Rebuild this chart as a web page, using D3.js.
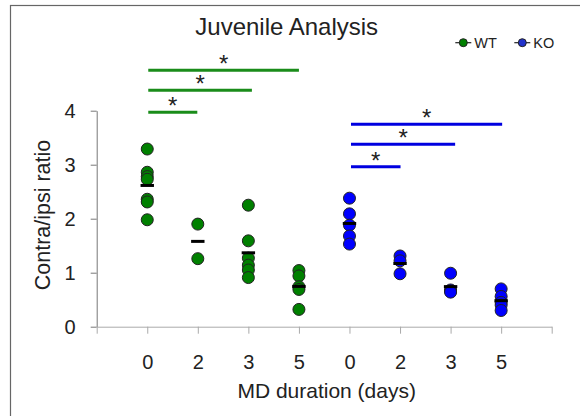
<!DOCTYPE html>
<html>
<head>
<meta charset="utf-8">
<script src="https://cdn.jsdelivr.net/npm/d3@7"></script>
<style>
  body { margin: 0; background: #fff; }
  text { font-family: "Liberation Sans", Arial, sans-serif; fill: #222; }
</style>
</head>
<body>
<div id="chart"></div>
<script>
// categories along the x axis (1..8 on a 0..9 axis)
const dayLabels = ["0", "2", "3", "5", "0", "2", "3", "5"];
const groups = ["WT", "KO"];
const groupColors = ["#008000", "#0000ff"];
const legendColors = ["#008000", "#2233cc"];

// individual ratios per MD duration
const wtValues = [
    [3.29, 2.86, 2.78, 2.73, 2.36, 2.31, 1.98],
    [1.90, 1.26],
    [2.25, 1.59, 1.27, 1.14, 1.05, 0.91],
    [1.04, 0.94, 0.74, 0.69, 0.32]
];
const koValues = [
    [2.38, 2.09, 1.88, 1.68, 1.53],
    [1.31, 1.22, 0.98],
    [0.99, 0.68, 0.66, 0.64],
    [0.70, 0.56, 0.45, 0.40, 0.30]
];

// significance bars: [from, to, height]
const wtSig = [[1.02, 1.99, 3.97], [1.02, 3.07, 4.38], [1.02, 4.0, 4.75]];
const koSig = [[5.03, 6.01, 2.96], [5.03, 7.09, 3.38], [5.03, 8.02, 3.75]];

const yTicks = [0, 1, 2, 3, 4];

const width = 580, height = 416;
const margin = {top: 110.7, right: 28.3, bottom: 89.3, left: 96.7};

const svg = d3.select("#chart").append("svg")
    .attr("width", width)
    .attr("height", height);

// frame (only top and left edges are visible in the crop)
svg.append("rect")
    .attr("x", 10.5).attr("y", 5.5)
    .attr("width", 700).attr("height", 600)
    .attr("fill", "none")
    .attr("stroke", "#666")
    .attr("stroke-width", 1.2);

const x = d3.scaleLinear([0, 9], [margin.left, width - margin.right]);
const y = d3.scaleLinear([0, 4], [height - margin.bottom, margin.top]);

// y axis
const yAxis = svg.append("g")
    .attr("transform", `translate(${margin.left},0)`)
    .call(d3.axisLeft(y).tickValues(yTicks).tickFormat(d3.format("d"))
        .tickSize(6).tickSizeOuter(0).tickPadding(15))
yAxis.selectAll("path, line").attr("stroke", "#777")
yAxis.selectAll("text").attr("font-size", 20).attr("font-family", null).attr("fill", "#222")

// x axis
const xAxis = svg.append("g")
    .attr("transform", `translate(0,${y(0)})`)
    .call(d3.axisBottom(x).tickValues(d3.range(0, 10)).tickSize(7).tickSizeOuter(0).tickPadding(21)
        .tickFormat(i => dayLabels[i - 1] || ""))
xAxis.selectAll("path, line").attr("stroke", "#aaa")
xAxis.selectAll("text").attr("font-size", 20).attr("font-family", null).attr("fill", "#222")

// titles
svg.append("text")
    .attr("x", 286.7).attr("y", 35)
    .attr("text-anchor", "middle")
    .attr("font-size", 24)
    .text("Juvenile Analysis");

svg.append("text")
    .attr("x", 326.7).attr("y", 398)
    .attr("text-anchor", "middle")
    .attr("font-size", 21)
    .text("MD duration (days)");

svg.append("text")
    .attr("transform", "translate(50,215) rotate(-90)")
    .attr("text-anchor", "middle")
    .attr("font-size", 21.5)
    .text("Contra/ipsi ratio");

// points + mean bars
const series = [wtValues, koValues];
series.forEach((vals, g) => {
    vals.forEach((arr, i) => {
        const xi = g * 4 + i + 1;
        svg.append("g")
            .selectAll("circle")
            .data(arr)
            .join("circle")
                .attr("cx", x(xi))
                .attr("cy", d => y(d))
                .attr("r", 6)
                .attr("fill", groupColors[g])
                .attr("stroke", "#222")
                .attr("stroke-width", 1);
        const m = d3.mean(arr);
        svg.append("line")
            .attr("x1", x(xi) - 6.7).attr("x2", x(xi) + 6.7)
            .attr("y1", y(m)).attr("y2", y(m))
            .attr("stroke", "#000")
            .attr("stroke-width", 3);
    });
});

// significance bars with stars
const sigColors = ["#1a8c1a", "#0000e0"];
[wtSig, koSig].forEach((bars, g) => {
    const sg = svg.append("g");
    sg.selectAll("line")
        .data(bars)
        .join("line")
            .attr("x1", d => x(d[0]))
            .attr("x2", d => x(d[1]))
            .attr("y1", d => y(d[2]))
            .attr("y2", d => y(d[2]))
            .attr("stroke", sigColors[g])
            .attr("stroke-width", 3);
    sg.selectAll("text")
        .data(bars)
        .join("text")
            .attr("x", d => x((d[0] + d[1]) / 2))
            .attr("y", d => y(d[2]) + 2)
            .attr("text-anchor", "middle")
            .attr("font-size", 24)
            .attr("fill", "#111")
            .text("*");
});

// legend
const legendX = [463.3, 522.3];
groups.forEach((name, g) => {
    const lg = svg.append("g").attr("transform", `translate(${legendX[g]},42.7)`);
    lg.append("line")
        .attr("x1", -8).attr("x2", 8)
        .attr("stroke", "#222").attr("stroke-width", 1.2);
    lg.append("circle")
        .attr("r", 4)
        .attr("fill", legendColors[g])
        .attr("stroke", "#222");
    lg.append("text")
        .attr("x", 11).attr("y", 5)
        .attr("font-size", 14.5)
        .attr("fill", "#444")
        .text(name);
});
</script>
</body>
</html>
